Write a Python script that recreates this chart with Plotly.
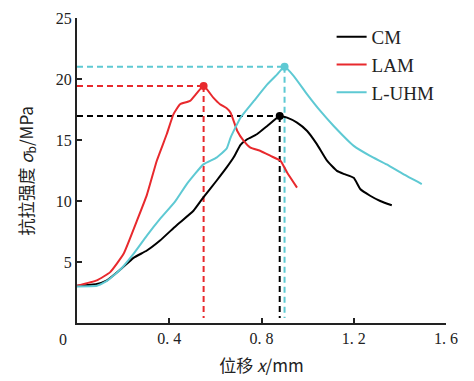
import plotly.graph_objects as go

cm_x = [0, 0.086, 0.13, 0.187, 0.245, 0.303, 0.36, 0.43, 0.505, 0.548, 0.605, 0.649, 0.68, 0.709, 0.738, 0.78, 0.825, 0.879,
        0.911, 0.954, 0.998, 1.04, 1.084, 1.127, 1.16, 1.2, 1.228, 1.271, 1.315, 1.365]
cm_y = [3.05, 3.2, 3.5, 4.36, 5.34, 5.94, 6.76, 7.98, 9.2, 10.3, 11.66, 12.75, 13.6, 14.6, 15.06, 15.47, 16.15, 16.97,
        16.83, 16.42, 15.74, 14.66, 13.3, 12.47, 12.2, 11.9, 10.98, 10.43, 10.0, 9.65]

lam_x = [0, 0.086, 0.144, 0.202, 0.26, 0.303, 0.346, 0.389, 0.418, 0.447, 0.49, 0.549, 0.591, 0.62, 0.649, 0.666,
         0.695, 0.723, 0.752, 0.796, 0.839, 0.882, 0.911, 0.954]
lam_y = [3.05, 3.49, 4.17, 5.67, 8.39, 10.5, 13.3, 15.47, 17.1, 17.93, 18.2, 19.42, 18.47, 17.93, 17.6, 17.24,
         15.74, 14.93, 14.38, 14.1, 13.7, 13.3, 12.34, 11.1]

uhm_x = [0, 0.086, 0.13, 0.187, 0.245, 0.303, 0.36, 0.425, 0.476, 0.548, 0.605, 0.649, 0.666, 0.709, 0.767, 0.825,
         0.868, 0.9, 0.94, 0.998, 1.055, 1.113, 1.2, 1.271, 1.343, 1.415, 1.495]
uhm_y = [3.0, 3.05, 3.45, 4.36, 5.67, 7.17, 8.53, 9.95, 11.39, 13.0, 13.56, 14.3, 15.2, 16.83, 18.2, 19.56,
         20.38, 21.0, 20.24, 18.74, 17.38, 16.15, 14.52, 13.7, 13.0, 12.2, 11.39]

names = ["CM", "LAM", "L-UHM"]
colors = ["#000000", "#e8292d", "#5ec9d3"]
peak_x = [0.879, 0.549, 0.9]
peak_y = [16.97, 19.42, 21.0]

x_ticks = [0.4, 0.8, 1.2, 1.6]
x_labels = ["0. 4", "0. 8", "1. 2", "1. 6"]
y_ticks = [5, 10, 15, 20, 25]

serif = "Liberation Serif, Times New Roman, serif"
cjk = "Noto Sans CJK SC, " + serif

fig = go.Figure()
series = [(cm_x, cm_y), (lam_x, lam_y), (uhm_x, uhm_y)]

# dashed reference lines
for i in range(3):
    fig.add_trace(go.Scatter(x=[0, peak_x[i]], y=[peak_y[i], peak_y[i]], mode="lines",
                             line=dict(color=colors[i], width=2, dash="6px,4px"), showlegend=False, hoverinfo="skip"))
    fig.add_trace(go.Scatter(x=[peak_x[i], peak_x[i]], y=[peak_y[i], 0.4], mode="lines",
                             line=dict(color=colors[i], width=2, dash="6px,4px"), showlegend=False, hoverinfo="skip"))

for i, (xs, ys) in enumerate(series):
    fig.add_trace(go.Scatter(x=xs, y=ys, mode="lines", name=names[i],
                             line=dict(color=colors[i], width=2, shape="spline", smoothing=0.4)))
for i in range(3):
    fig.add_trace(go.Scatter(x=[peak_x[i]], y=[peak_y[i]], mode="markers",
                             marker=dict(color=colors[i], size=8), showlegend=False))

fig.update_layout(
    width=474, height=381,
    margin=dict(l=69, r=36, t=10, b=66),
    plot_bgcolor="white", paper_bgcolor="white",
    font=dict(family=serif, size=16, color="#222"),
    legend=dict(x=0.69, y=1.0, xanchor="left", yanchor="top", bgcolor="rgba(0,0,0,0)",
                font=dict(family=serif, size=19, color="#222"), tracegroupgap=0),
    xaxis=dict(range=[0, 1.6], tickvals=x_ticks, ticktext=x_labels, ticks="inside", ticklen=5,
               tickwidth=2, tickcolor="#222", automargin=False,
               showline=True, linecolor="#222", linewidth=2, showgrid=False, zeroline=False,
               title=dict(text="位移 <i>x</i>/mm", font=dict(family=cjk, size=17), standoff=14)),
    yaxis=dict(range=[0, 25], tickvals=y_ticks, ticks="inside", ticklen=5, tickwidth=2, tickcolor="#222",
               showline=True, linecolor="#222", linewidth=2, showgrid=False, zeroline=False, automargin=False),
)
fig.add_annotation(x=-0.138, y=0.5, xref="paper", yref="paper", text="抗拉强度 <i>σ</i><sub>b</sub>/MPa",
                   textangle=-90, showarrow=False, xanchor="center", yanchor="middle",
                   font=dict(family=cjk, size=17, color="#222"))
fig.add_annotation(x=0, y=0, xref="x", yref="y", text="0", showarrow=False, xshift=-14, yshift=-16,
                   font=dict(family=serif, size=16, color="#222"))

fig.write_html("out.html")
